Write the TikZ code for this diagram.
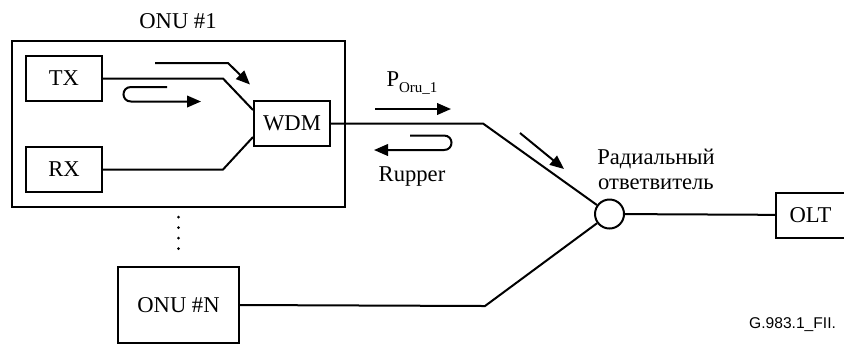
\documentclass[tikz,border=0pt]{standalone}
\usepackage{fontspec}
\setmainfont{Liberation Serif}
\newfontfamily\labelsans{Liberation Sans}
\usetikzlibrary{arrows.meta,positioning,calc}

\begin{document}
\begin{tikzpicture}[
    x=0.5pt,y=-0.5pt,
    >={Triangle[length=7pt,width=5.8pt]},
    every node/.style={font=\fontsize{11.3}{13}\selectfont},
    unitbox/.style={rectangle,draw,line width=1pt,inner sep=0pt},
    smallbox/.style={unitbox,minimum width=38pt,minimum height=22.5pt},
    fibre/.style={line width=1pt},
    flow/.style={->,line width=1pt}
  ]
  \useasboundingbox (0,0) rectangle (844,345);
  %% ONU #1 with its parts
  \node[unitbox,minimum width=166.5pt,minimum height=83pt] (onu1) at (178.5,124) {};
  \node (onu1lbl) at (178,21) {ONU \#1};
  \node[smallbox] (tx) at (64,78.5) {TX};
  \node[smallbox] (rx) at (64,169.5) {RX};
  \node[smallbox] (wdm) at (292,123.5) {WDM};
  %% other units
  \node[unitbox,minimum width=60.5pt,minimum height=38pt] (onuN) at (178.5,305) {ONU \#N};
  \node[unitbox,minimum width=34.5pt,minimum height=22.5pt] (olt) at (810.5,215) {OLT};
  \node[circle,draw,line width=1pt,minimum size=14.5pt,inner sep=0pt] (cpl) at (609.5,214) {};
  \node[align=center] (cpllbl) at (656,169)
        {Радиальный\\[-0.6pt]ответвитель};
  %% fibres
  \coordinate (txbend) at (223,78.5);
  \coordinate (rxbend) at (223,169.5);
  \coordinate (upbend) at (483,123.5);
  \coordinate (lowbend) at (485,306);
  \draw[fibre] (tx.east) -- (txbend) -- ([yshift=6.75pt]wdm.west);
  \draw[fibre] (rx.east) -- (rxbend) -- ([yshift=-6.75pt]wdm.west);
  \draw[fibre] (wdm.east) -- (upbend) -- (cpl);
  \draw[fibre] (onuN.east) -- (lowbend) -- (cpl);
  \draw[fibre] (cpl) -- (olt);
  \draw[line width=1.5pt,line cap=round,dash pattern=on 0pt off 5.25pt,
        shorten <=4.5pt,shorten >=4.3pt] (onu1.south) -- (onuN.north);
  %% signal arrows
  \draw[flow] (155,63) -- (228,63) -- (250,84.5);
  \draw[flow] (167,87) -- (131,87) .. controls (121,87) and (121,101.5) .. (131,101.5) -- (201,101.5);
  \draw[flow] (375,109) -- (451,109);
  \draw[flow] (410,135.5) -- (444,135.5) .. controls (454,135.5) and (454,150) .. (444,150) -- (374,150);
  \draw[flow] (520,133) -- (564,169);
  %% labels
  \node (plbl) at (412,83) {P\raisebox{-0.55ex}{\fontsize{7.5}{8}\selectfont Oru\_1}};
  \node (rlbl) at (412,176) {Rupper};
  \node[anchor=east,font=\labelsans\fontsize{7.8}{9}\selectfont] (figid) at (843,325) {G.983.1\_FII.};
\end{tikzpicture}
\end{document}
